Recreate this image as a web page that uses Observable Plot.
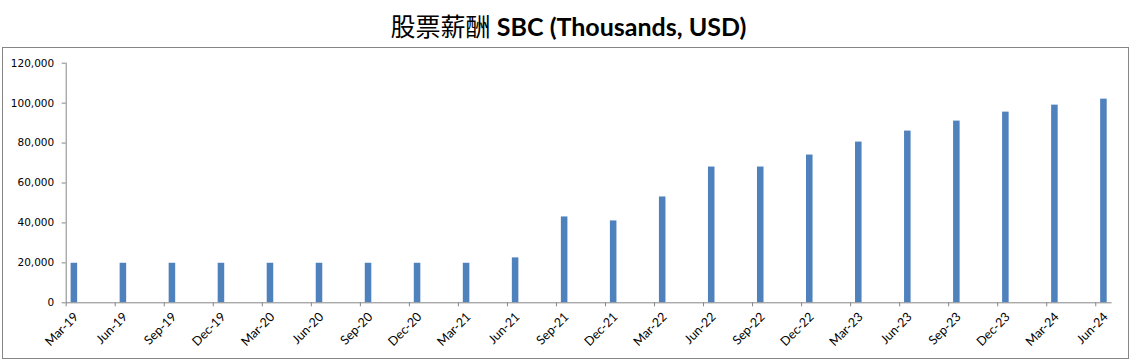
<!DOCTYPE html>
<html><head><meta charset="utf-8">
<script src="https://cdn.jsdelivr.net/npm/d3@7"></script>
<script src="https://cdn.jsdelivr.net/npm/@observablehq/plot@0.6"></script>
<style>
html,body{margin:0;padding:0;background:#fff}
body{width:1131px;height:361px;overflow:hidden;position:relative}
#title{position:absolute;left:0;top:0;width:1131px;height:47px;text-align:center;line-height:50px;font-size:25px;color:#000;white-space:nowrap;padding-left:6px;box-sizing:border-box}
#title .zh{font-family:"Noto Sans CJK SC";font-weight:400}
#title .en{font-family:Lato,"Open Sans",sans-serif;font-weight:700}
#chart{position:absolute;left:2px;top:47px;width:1125px;height:310px;border:1px solid #868686}
#chart svg{display:block}
</style>
</head><body>
<div id="title"><span class="zh">股票薪酬</span> <span class="en">SBC (Thousands, USD)</span></div>
<div id="chart"></div>
<script>
const quarters = ["Mar-19","Jun-19","Sep-19","Dec-19","Mar-20","Jun-20","Sep-20","Dec-20","Mar-21","Jun-21","Sep-21","Dec-21","Mar-22","Jun-22","Sep-22","Dec-22","Mar-23","Jun-23","Sep-23","Dec-23","Mar-24","Jun-24"];
const sbc = [19800,19800,19800,19800,19800,19800,19800,19800,19800,22500,43000,41000,53000,68000,68000,74000,80500,86000,91000,95500,99000,102000];
const yTicks = [0,20000,40000,60000,80000,100000,120000];

// month offsets from Mar-19 (date axis, base unit = month)
const data = quarters.map((q, i) => ({q, m: i * 3, v: sbc[i]}));
const tickMonths = data.map(d => d.m);
const labelMonths = data.map(d => d.m + 0.5);

const chart = Plot.plot({
  width: 1125, height: 310,
  marginLeft: 62.7, marginRight: 16.4, marginTop: 14.7, marginBottom: 55.7,
  style: {background: "#fff", fontFamily: "DejaVu Sans", color: "#000"},
  x: {type: "linear", domain: [0, 64], axis: null},
  y: {domain: [0, 120000], axis: null},
  marks: [
    Plot.rectY(data, {x1: d => d.m + 0.3, x2: d => d.m + 0.7, y1: 0, y2: "v", fill: "#4F81BD"}),
    Plot.ruleY([0], {stroke: "#868686", strokeWidth: 1}),
    Plot.ruleX([0], {stroke: "#868686", strokeWidth: 1}),
    Plot.axisY({ticks: yTicks, label: null, tickSize: 4, tickPadding: 8, tickFormat: d3.format(","), stroke: "#868686", fill: "#000", fontSize: 10.5, fontFamily: "DejaVu Sans"}),
    Plot.axisX({ticks: tickMonths, label: null, tickSize: 4, tickFormat: () => "", stroke: "#868686"}),
    Plot.axisX({ticks: labelMonths, label: null, tickSize: 0, tickPadding: 12, dx: 2, tickRotate: -45, tickFormat: d => quarters[Math.round((d - 0.5) / 3)], fill: "#000", fontSize: 12.5, fontFamily: "Lato"})
  ]
});
document.getElementById("chart").appendChild(chart);
</script>
</body></html>
